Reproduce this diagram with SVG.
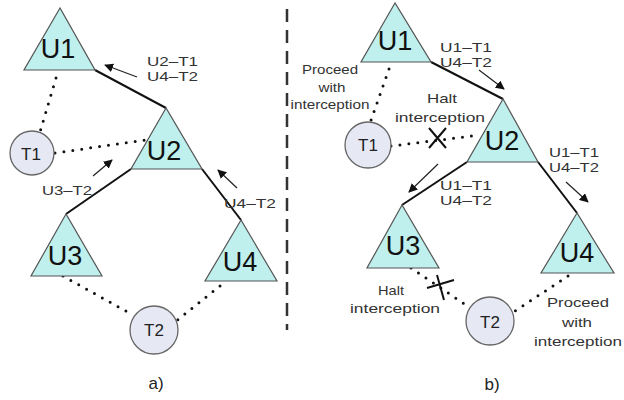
<svg xmlns="http://www.w3.org/2000/svg" width="624" height="400" viewBox="0 0 624 400">
<defs>
<marker id="ah" viewBox="0 0 10 10" refX="9" refY="5" markerWidth="9" markerHeight="9" markerUnits="userSpaceOnUse" orient="auto">
<path d="M0,0 L10,5 L0,10 z" fill="#111"/>
</marker>
<style>
.tri{fill:#bff0ee;stroke:#555;stroke-width:1.2}
.cir{fill:#e6e8f4;stroke:#666;stroke-width:1.3}
.edge{stroke:#111;stroke-width:2;fill:none}
.dot{stroke:#111;stroke-width:3;stroke-linecap:round;stroke-dasharray:0 9;fill:none}
.arr{stroke:#222;stroke-width:1.2;fill:none;marker-end:url(#ah)}
.xm{stroke:#111;stroke-width:2;fill:none}
.big{font-family:"Liberation Sans",Arial,sans-serif;font-size:27px;fill:#111;text-anchor:middle}
.tn{font-family:"Liberation Sans",Arial,sans-serif;font-size:17px;fill:#222;text-anchor:middle}
.lb{font-family:"Liberation Sans",Arial,sans-serif;font-size:13px;fill:#333}
.nt{font-family:"Liberation Sans",Arial,sans-serif;font-size:13px;fill:#333;text-anchor:middle}
.cap{font-family:"Liberation Sans",Arial,sans-serif;font-size:17px;fill:#222;text-anchor:middle}
.div{stroke:#333;stroke-width:2.5;stroke-dasharray:13 8;fill:none}
</style>
</defs>

<line class="div" x1="287" y1="9" x2="287" y2="330"/>

<g id="connectors">
<!-- left panel -->
<line class="edge" x1="95" y1="70" x2="166" y2="108"/>
<line class="edge" x1="131" y1="169" x2="66" y2="214"/>
<line class="edge" x1="202" y1="169" x2="241" y2="220"/>
<line class="dot" x1="56" y1="78" x2="40" y2="132"/>
<line class="dot" x1="55" y1="153" x2="145" y2="140"/>
<line class="dot" x1="63" y1="276" x2="133" y2="315"/>
<line class="dot" x1="220" y1="286" x2="175" y2="322"/>
<line class="arr" x1="137" y1="77" x2="105" y2="65"/>
<line class="arr" x1="93" y1="176" x2="112" y2="160"/>
<line class="arr" x1="237" y1="188" x2="218" y2="170"/>
<!-- right panel -->
<line class="edge" x1="431" y1="62" x2="503" y2="99"/>
<line class="edge" x1="467" y1="162" x2="402" y2="205"/>
<line class="edge" x1="538" y1="162" x2="577" y2="213"/>
<line class="dot" x1="389" y1="69" x2="370" y2="123"/>
<line class="dot" x1="391" y1="146" x2="480" y2="135"/>
<line class="dot" x1="411" y1="268" x2="469" y2="307"/>
<line class="dot" x1="568" y1="276" x2="512" y2="313"/>
<line class="arr" x1="479" y1="70" x2="504" y2="89"/>
<line class="arr" x1="438" y1="164" x2="409" y2="192"/>
<line class="arr" x1="566" y1="182" x2="588" y2="202"/>
<path class="xm" d="M429,128 L446,148 M446,128 L429,148"/>
<path class="xm" d="M427,288 L454,280 M437,275 L444,300"/>
</g>

<g id="U1a"><polygon class="tri" points="60,8 24,70 95,70"/><text class="big" x="58" y="58">U1</text></g>
<g id="U2a"><polygon class="tri" points="166,108 131,169 202,169"/><text class="big" x="164" y="160">U2</text></g>
<g id="U3a"><polygon class="tri" points="66,214 31,276 102,276"/><text class="big" x="65" y="265">U3</text></g>
<g id="U4a"><polygon class="tri" points="241,220 205,281 277,281"/><text class="big" x="240" y="271">U4</text></g>
<g id="T1a"><circle class="cir" cx="32" cy="153" r="22"/><text class="tn" x="31" y="160">T1</text></g>
<g id="T2a"><circle class="cir" cx="154" cy="330" r="24"/><text class="tn" x="154" y="336">T2</text></g>

<g id="U1b"><polygon class="tri" points="395,3 361,62 431,62"/><text class="big" x="395" y="50">U1</text></g>
<g id="U2b"><polygon class="tri" points="503,99 467,162 538,162"/><text class="big" x="502" y="150">U2</text></g>
<g id="U3b"><polygon class="tri" points="402,205 367,268 439,268"/><text class="big" x="403" y="255">U3</text></g>
<g id="U4b"><polygon class="tri" points="577,213 541,273 614,273"/><text class="big" x="577" y="262">U4</text></g>
<g id="T1b"><circle class="cir" cx="368" cy="145" r="23"/><text class="tn" x="368" y="151">T1</text></g>
<g id="T2b"><circle class="cir" cx="490" cy="321" r="24"/><text class="tn" x="490" y="328">T2</text></g>

<g id="labels">
<text class="lb" x="147" y="66" textLength="51" lengthAdjust="spacingAndGlyphs">U2–T1</text>
<text class="lb" x="147" y="81" textLength="51" lengthAdjust="spacingAndGlyphs">U4–T2</text>
<text class="lb" x="42" y="195" textLength="50" lengthAdjust="spacingAndGlyphs">U3–T2</text>
<text class="lb" x="224" y="208" textLength="52" lengthAdjust="spacingAndGlyphs">U4–T2</text>

<text class="lb" x="440" y="52" textLength="52" lengthAdjust="spacingAndGlyphs">U1–T1</text>
<text class="lb" x="440" y="67" textLength="52" lengthAdjust="spacingAndGlyphs">U4–T2</text>
<text class="lb" x="549" y="157" textLength="50" lengthAdjust="spacingAndGlyphs">U1–T1</text>
<text class="lb" x="549" y="172" textLength="50" lengthAdjust="spacingAndGlyphs">U4–T2</text>
<text class="lb" x="440" y="190" textLength="52" lengthAdjust="spacingAndGlyphs">U1–T1</text>
<text class="lb" x="440" y="205" textLength="52" lengthAdjust="spacingAndGlyphs">U4–T2</text>

<text class="nt" x="330" y="74" textLength="56" lengthAdjust="spacingAndGlyphs">Proceed</text>
<text class="nt" x="332" y="92" textLength="27" lengthAdjust="spacingAndGlyphs">with</text>
<text class="nt" x="330" y="109" textLength="79" lengthAdjust="spacingAndGlyphs">interception</text>

<text class="nt" x="442" y="103" textLength="30" lengthAdjust="spacingAndGlyphs">Halt</text>
<text class="nt" x="440" y="122" textLength="90" lengthAdjust="spacingAndGlyphs">interception</text>

<text class="nt" x="391" y="295" textLength="26" lengthAdjust="spacingAndGlyphs">Halt</text>
<text class="nt" x="395" y="313" textLength="90" lengthAdjust="spacingAndGlyphs">interception</text>

<text class="nt" x="578" y="307" textLength="62" lengthAdjust="spacingAndGlyphs">Proceed</text>
<text class="nt" x="577" y="327" textLength="30" lengthAdjust="spacingAndGlyphs">with</text>
<text class="nt" x="578" y="346" textLength="88" lengthAdjust="spacingAndGlyphs">interception</text>

<text class="cap" x="156" y="389">a)</text>
<text class="cap" x="492" y="390">b)</text>
</g>
</svg>
